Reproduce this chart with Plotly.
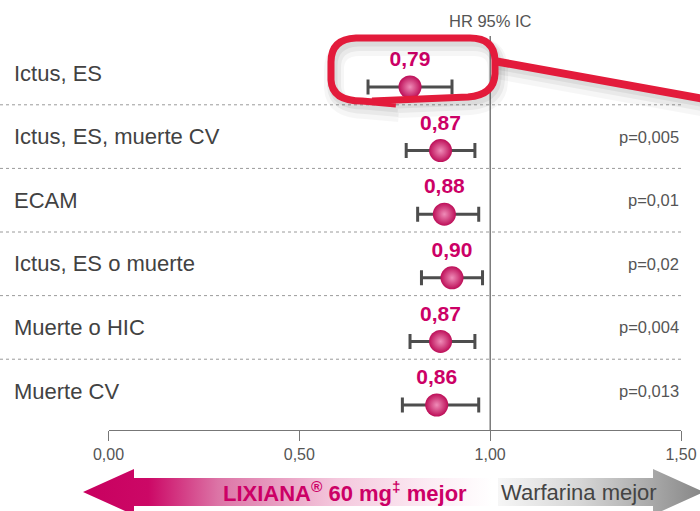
import plotly.graph_objects as go

# ---------------- data ----------------
categories = ["Ictus, ES", "Ictus, ES, muerte CV", "ECAM",
              "Ictus, ES o muerte", "Muerte o HIC", "Muerte CV"]
hr = [0.79, 0.87, 0.88, 0.90, 0.87, 0.86]
ci_low = [0.68, 0.78, 0.81, 0.82, 0.79, 0.77]
ci_high = [0.90, 0.96, 0.97, 0.98, 0.96, 0.97]
hr_labels = ["0,79", "0,87", "0,88", "0,90", "0,87", "0,86"]
p_values = ["", "p=0,005", "p=0,01", "p=0,02", "p=0,004", "p=0,013"]
tick_vals = [0.0, 0.5, 1.0, 1.5]
tick_text = ["0,00", "0,50", "1,00", "1,50"]
left_label = "LIXIANA<sup>®</sup> 60 mg<sup>‡</sup> mejor"
right_label = "Warfarina mejor"
header = "HR 95% IC"

# ---------------- layout constants (pixels) ----------------
W, H = 700, 511
FONT = "Liberation Sans, Arial, Helvetica, sans-serif"
RED = "#e31b3b"
x_left_px, x_right_px = 108.5, 681.0
axis_px = 430.0
top_px = 28.0
row0_px, pitch = 87.0, 63.6

rows = list(range(len(categories)))
y_bottom = (axis_px - row0_px) / pitch
y_top = -(row0_px - top_px) / pitch

fig = go.Figure()

# error bars + spheres
fig.add_trace(go.Scatter(
    x=hr, y=rows, mode="markers",
    marker=dict(size=23, color="#bd0e58",
                gradient=dict(type="radial", color="#ef8cb8"),
                line=dict(width=0)),
    error_x=dict(type="data", symmetric=False,
                 array=[h - m for h, m in zip(ci_high, hr)],
                 arrayminus=[m - l for m, l in zip(hr, ci_low)],
                 color="#4d4d4d", thickness=3, width=7.5),
    showlegend=False, hoverinfo="skip", cliponaxis=False,
))
# value labels above the spheres
fig.add_trace(go.Scatter(
    x=hr, y=[r - 26 / pitch for r in rows], mode="text",
    text=hr_labels, textposition="middle center",
    textfont=dict(family=FONT, size=21, color="#cc0066", weight="bold"),
    showlegend=False, hoverinfo="skip", cliponaxis=False,
))

# ---- arrows on a full-figure overlay axis (pixel coordinates) ----
pink_x = [83, 134, 134, 492, 492, 134, 134, 83]
pink_y = [492, 469, 478, 478, 506, 506, 515, 492]
fig.add_trace(go.Scatter(
    x=pink_x, y=pink_y, xaxis="x2", yaxis="y2", mode="lines",
    fill="toself", line=dict(width=0),
    fillgradient=dict(type="horizontal", start=83, stop=492,
                      colorscale=[[0, "#c8005f"], [0.16, "#cc0866"],
                                  [0.33, "#dc74a6"], [0.62, "#f4c8dd"],
                                  [0.85, "#fcecf4"], [1, "#ffffff"]]),
    showlegend=False, hoverinfo="skip",
))
gray_x = [498, 653, 653, 704, 653, 653, 498]
gray_y = [478, 478, 469, 492, 515, 506, 506]
fig.add_trace(go.Scatter(
    x=gray_x, y=gray_y, xaxis="x2", yaxis="y2", mode="lines",
    fill="toself", line=dict(width=0),
    fillgradient=dict(type="horizontal", start=498, stop=704,
                      colorscale=[[0, "#f6f6f6"], [0.4, "#d6d6d6"],
                                  [0.75, "#a8a8a8"], [1, "#858585"]]),
    showlegend=False, hoverinfo="skip",
))

shapes = []
# dashed separators
for i in rows[:-1]:
    yy = row0_px + pitch * (i + 0.28)
    shapes.append(dict(type="line", xref="x2", yref="y2", x0=0, x1=681,
                       y0=yy, y1=yy, line=dict(color="#9a9a9a", width=1, dash="3px,3px"),
                       layer="below"))
# reference line at HR = 1
shapes.append(dict(type="line", xref="x", yref="y2", x0=1, x1=1, y0=36, y1=axis_px,
                   line=dict(color="#4a4a4a", width=1.1), layer="below"))


def shifted(path, dx, dy):
    out = []
    for tok in path.split(" "):
        if "," in tok:
            a, b = tok.split(",")
            out.append(f"{float(a) + dx},{float(b) + dy}")
        else:
            out.append(tok)
    return " ".join(out)


# red hand-drawn callout with soft shadow
loop_path = ("M 372,101 L 468,97 Q 494,95 495,74 L 495,60 Q 494,38 470,38 "
             "L 356,38 Q 331,39 331,62 L 331,80 Q 332,101 362,101 L 396,104")
line_path = "M 494,61 L 704,99"
for dx, dy, w, a in [(3, 8, 20, 0.035), (3, 6, 14, 0.05), (2, 4, 9, 0.06)]:
    shapes.append(dict(type="path", xref="x2", yref="y2", path=shifted(loop_path, dx, dy),
                       line=dict(color=f"rgba(0,0,0,{a})", width=w)))
    shapes.append(dict(type="path", xref="x2", yref="y2", path=shifted(line_path, dx, dy),
                       line=dict(color=f"rgba(0,0,0,{a})", width=w)))
shapes.append(dict(type="path", xref="x2", yref="y2", path=loop_path,
                   line=dict(color=RED, width=7)))
shapes.append(dict(type="path", xref="x2", yref="y2", path=line_path,
                   line=dict(color=RED, width=8)))

annotations = []
for i, c in enumerate(categories):
    annotations.append(dict(xref="paper", yref="y", x=12 / W, y=i - 14 / pitch,
                            xanchor="left", yanchor="middle", showarrow=False, text=c,
                            font=dict(family=FONT, size=22, color="#424242")))
for i, p in enumerate(p_values):
    if p:
        annotations.append(dict(xref="paper", yref="y", x=x_right_px / W, y=i - 14 / pitch,
                                xanchor="right", yanchor="middle", showarrow=False, text=p,
                                font=dict(family=FONT, size=16.5, color="#555555")))
annotations.append(dict(xref="x", yref="paper", x=1.0, y=(H - 21) / H, xanchor="center",
                        yanchor="middle", showarrow=False, text=header,
                        font=dict(family=FONT, size=16.5, color="#555555")))
annotations.append(dict(xref="paper", yref="paper", x=345 / W, y=(H - 492) / H,
                        xanchor="center", yanchor="middle", showarrow=False, text=left_label,
                        font=dict(family=FONT, size=22, color="#cc0066", weight="bold")))
annotations.append(dict(xref="paper", yref="paper", x=579 / W, y=(H - 492) / H,
                        xanchor="center", yanchor="middle", showarrow=False, text=right_label,
                        font=dict(family=FONT, size=22, color="#444444")))

fig.update_layout(
    width=W, height=H, autosize=False,
    margin=dict(l=0, r=0, t=0, b=0, pad=0, autoexpand=False),
    paper_bgcolor="white", plot_bgcolor="rgba(0,0,0,0)",
    font=dict(family=FONT),
    showlegend=False,
    xaxis=dict(domain=[x_left_px / W, x_right_px / W], range=[0, 1.5],
               tickvals=tick_vals, ticktext=tick_text, ticks="outside", ticklen=10,
               tickcolor="#777777", tickwidth=1, showline=True, linecolor="#777777",
               linewidth=1, showgrid=False, zeroline=False, fixedrange=True,
               automargin=False,
               tickfont=dict(family=FONT, size=16, color="#555555"), anchor="y"),
    yaxis=dict(domain=[(H - axis_px) / H, (H - top_px) / H], range=[y_bottom, y_top],
               visible=False, fixedrange=True, anchor="x", automargin=False),
    xaxis2=dict(domain=[0, 1], range=[0, W], visible=False, anchor="y2", fixedrange=True,
                automargin=False),
    yaxis2=dict(domain=[0, 1], range=[H, 0], visible=False, anchor="x2", fixedrange=True,
                automargin=False),
    shapes=shapes, annotations=annotations,
)

fig.write_html(
    "out.html",
    config={"responsive": False, "displayModeBar": False},
    default_width="700px", default_height="511px",
    post_script="document.body.style.margin='0';document.body.style.overflow='hidden';",
)
